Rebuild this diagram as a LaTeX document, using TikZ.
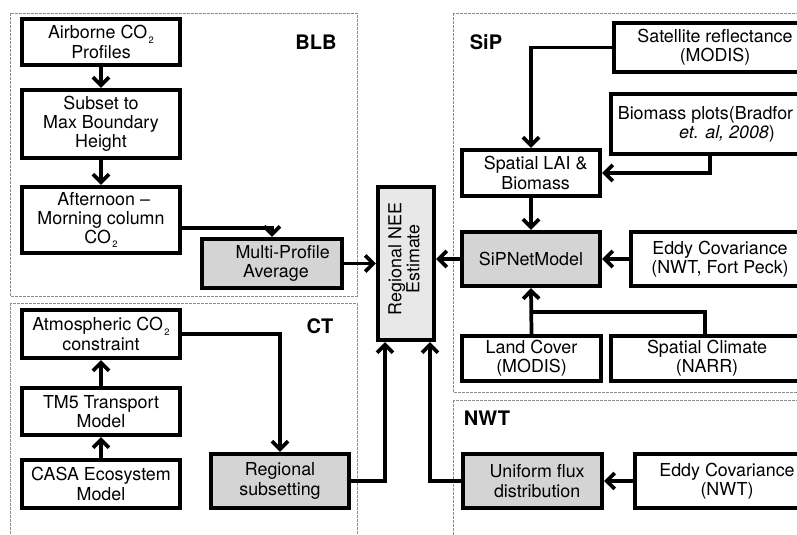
\documentclass[tikz,border=0pt]{standalone}
\usepackage{fontspec}
\setmainfont{TeX Gyre Heros}
\usetikzlibrary{arrows.meta}
\definecolor{boxgray}{gray}{0.83}
\definecolor{neegray}{gray}{0.91}
\definecolor{panelgray}{gray}{0.55}
\newcommand{\cotwo}{CO\raisebox{-0.45ex}{\fontsize{7}{7}\selectfont\,2}}
\begin{document}
\begin{tikzpicture}[x=0.75pt,y=-0.75pt,
  box/.style={draw=black, line width=2.8pt, fill=white, align=center, inner sep=0pt,
    font=\fontsize{13.4}{14.4}\selectfont},
  gbox/.style={box, fill=boxgray},
  panel/.style={draw=panelgray, line width=0.6pt, dash pattern=on 2pt off 1pt},
  lbl/.style={font=\fontsize{15}{17}\selectfont\bfseries, inner sep=0pt},
  arr/.style={line width=2.8pt, -{Straight Barb[length=6pt,width=12pt]}},
  conn/.style={line width=2.8pt},
]
\path[use as bounding box] (0,0) rectangle (797,535);
\clip (0,0) rectangle (797,535);

% panels
\draw[panel] (10,13) rectangle (357,296);
\draw[panel] (10,303) rectangle (357,545);
\draw[panel] (453,13) rectangle (815,392);
\draw[panel] (453,400) rectangle (815,545);

\node[lbl] (lblb) at (316,42) {BLB};
\node[lbl] (lct) at (320,326) {CT};
\node[lbl] (lsip) at (486,42) {SiP};
\node[lbl] (lnwt) at (487,418) {NWT};

% BLB
\node[box, minimum width=118.9pt, minimum height=34.9pt] (air) at (101,42) {Airborne \cotwo\\Profiles};
\node[box, minimum width=118.9pt, minimum height=51.4pt] (subset) at (101,124) {Subset to\\Max Boundary\\Height};
\node[box, minimum width=118.9pt, minimum height=49.9pt] (after) at (101,220) {\hspace*{4pt}Afternoon --\\Morning column\\\cotwo};
\node[gbox, minimum width=105.4pt, minimum height=37.1pt] (multi) at (272,263.5) {\hspace*{16pt}Multi-Profile\\\hspace*{6pt}Average};

% NEE
\node[box, fill=neegray, minimum width=42.4pt, minimum height=115.1pt] (nee) at (406,263.5) {};
\node[rotate=90, align=center, inner sep=0pt, font=\fontsize{13.4}{13.6}\selectfont] (neetext) at (404,259) {Regional NEE\\Estimate};

% CT
\node[box, minimum width=118.9pt, minimum height=36.4pt] (atm) at (101,334) {Atmospheric \cotwo\\constraint};
\node[box, minimum width=118.9pt, minimum height=35.6pt] (tm5) at (101,411.5) {TM5 Transport\\Model};
\node[box, minimum width=118.9pt, minimum height=36.4pt] (casa) at (101,484) {CASA Ecosystem\\Model};
\node[gbox, minimum width=103.9pt, minimum height=40.9pt] (regsub) at (280,481) {Regional\\subsetting};

% SiP
\node[box, minimum width=151.9pt, minimum height=37.1pt] (sat) at (715,47.5) {Satellite reflectance\\(MODIS)};
\node[box, minimum width=151.9pt, minimum height=45.4pt] (bio) at (712,124) {Biomass plots(Bradfor\hspace*{9.75pt}\\\hspace*{22.5pt}\textit{et. al, 2008})};
\node[box, minimum width=103.9pt, minimum height=34.9pt] (lai) at (531,173) {\hspace*{7pt}Spatial LAI \&\\\hspace*{7pt}Biomass};
\node[gbox, minimum width=103.9pt, minimum height=40.9pt] (sipnet) at (531,259) {SiPNetModel};
\node[box, minimum width=133.9pt, minimum height=40.9pt] (eddy1) at (720,259) {Eddy Covariance\\(NWT, Fort Peck)};
\node[box, minimum width=104.6pt, minimum height=34.1pt] (land) at (531.5,358.5) {Land Cover\\(MODIS)};
\node[box, minimum width=144.4pt, minimum height=34.1pt] (clim) at (707,358.5) {Spatial Climate\\(NARR)};

% NWT
\node[gbox, minimum width=104.6pt, minimum height=40.9pt] (unif) at (532.5,481) {\hspace*{7pt}Uniform flux\\\hspace*{7pt}distribution};
\node[box, minimum width=138.4pt, minimum height=40.9pt] (eddy2) at (727,481) {Eddy Covariance\\(NWT)};

\coordinate (j) at (531.5,312);

% arrows BLB
\draw[arr] (air.south) -- (subset.north);
\draw[arr] (subset.south) -- (after.north);
\draw[arr] ([yshift=-6pt]after.east) -| (multi.north);
\draw[arr] (multi.east) -- (multi.east -| nee.west);

% arrows CT
\draw[arr] (casa.north) -- (tm5.south);
\draw[arr] (tm5.north) -- (atm.south);
\draw[arr] (atm.east) -| (regsub.north);
\draw[arr] (regsub.east) -| ([xshift=-15.75pt]nee.south);

% arrows SiP
\draw[arr] (sat.west) -| (lai.north);
\draw[arr] ([xshift=-1.5pt]bio.south) |- (lai.east);
\draw[arr] (lai.south) -- (sipnet.north);
\draw[arr] (eddy1.west) -- (sipnet.east);
\draw[arr] (land.north) -- (sipnet.south);
\draw[conn] ([xshift=-1.5pt]clim.north) |- (j);
\draw[arr] (sipnet.west) -- (sipnet.west -| nee.east);

% arrows NWT
\draw[arr] (eddy2.west) -- (unif.east);
\draw[arr] (unif.west) -| ([xshift=18pt]nee.south);
\end{tikzpicture}
\end{document}
